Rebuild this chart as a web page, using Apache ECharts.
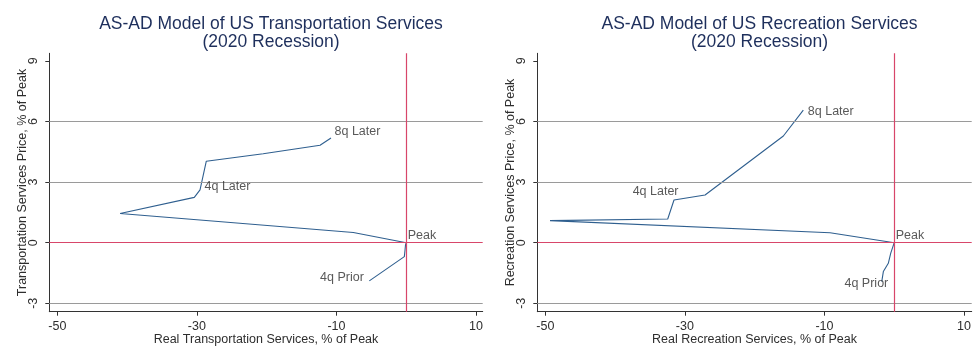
<!DOCTYPE html>
<html>
<head>
<meta charset="utf-8">
<script src="https://cdn.jsdelivr.net/npm/echarts@6/dist/echarts.min.js"></script>
<style>
html,body{margin:0;padding:0;background:#fff;}
#chart{width:975px;height:361px;}
</style>
</head>
<body>
<div id="chart"></div>
<script>
// ---- data ----
const xTicks = [-50, -30, -10, 10];
const yTicks = [-3, 0, 3, 6, 9];
const gridLinesY = [-3, 3, 6];
const quarterLabels = ['4q Prior', '', '', '', 'Peak', '', '', '', '4q Later', '', '', '', '8q Later'];

const transX = [-5.29, -0.27, -0.17, -0.10, 0, -7.58, -41.0, -30.37, -29.55, -28.65, -20.5, -12.35, -10.78];
const transY = [-1.89, -0.69, -0.36, -0.11, 0, 0.50, 1.44, 2.24, 2.61, 4.03, 4.40, 4.82, 5.18];

const recX = [-1.79, -1.56, -0.85, -0.50, 0, -9.2, -49.33, -32.46, -31.56, -27.11, -21.5, -15.89, -13.03];
const recY = [-1.93, -1.43, -1.02, -0.52, 0, 0.49, 1.09, 1.17, 2.11, 2.36, 3.82, 5.28, 6.56];

const titles = ['AS-AD Model of US Transportation Services\n(2020 Recession)', 'AS-AD Model of US Recreation Services\n(2020 Recession)'];
const xNames = ['Real Transportation Services, % of Peak', 'Real Recreation Services, % of Peak'];
const yNames = ['Transportation Services Price, % of Peak', 'Recreation Services Price, % of Peak'];

// ---- styles ----
const FONT = "'Liberation Sans', Arial, sans-serif";
const LINE_COLOR = '#2f5f8f';
const RED = '#d8466a';
const TEXT = '#2e2e2e';

// label placement per panel (style only)
const labelStyles = [
  {
    '4q Prior': {position: 'left', distance: 5, offset: [0, -3]},
    'Peak': {position: 'right', distance: 1, offset: [0, -7]},
    '4q Later': {position: 'right', distance: 4, offset: [0, -3]},
    '8q Later': {position: 'right', distance: 3, offset: [0, -6]}
  },
  {
    '4q Prior': {position: 'left', distance: 0, offset: [7, 2]},
    'Peak': {position: 'right', distance: 1, offset: [0, -7]},
    '4q Later': {position: 'left', distance: 0, offset: [5, -8]},
    '8q Later': {position: 'right', distance: 4, offset: [0, 1]}
  }
];

const panels = [
  {xs: transX, ys: transY, left: 49.3, width: 433.4, xMax: 10.96},
  {xs: recX, ys: recY, left: 537.3, width: 434.4, xMax: 11.1}
];

const chart = echarts.init(document.getElementById('chart'), null, {renderer: 'canvas'});

const option = {
  animation: false,
  backgroundColor: '#fff',
  textStyle: {fontFamily: FONT},
  title: panels.map((p, i) => ({
    text: titles[i],
    left: p.left + p.width / 2,
    top: 10,
    textAlign: 'center',
    textStyle: {fontFamily: FONT, fontSize: 17.5, fontWeight: 'normal', color: '#1e2f5c', lineHeight: 18}
  })),
  grid: panels.map(p => ({left: p.left, top: 53.3, width: p.width, height: 258.4, containLabel: false})),
  xAxis: panels.map((p, i) => ({
    type: 'value', gridIndex: i, min: -51.15, max: p.xMax,
    name: xNames[i], nameLocation: 'middle', nameGap: 21, nameMoveOverlap: false,
    nameTextStyle: {fontFamily: FONT, fontSize: 12.5, color: TEXT},
    axisLine: {show: true, onZero: false, lineStyle: {color: '#333', width: 1}},
    axisTick: {show: true, length: 4, customValues: xTicks, lineStyle: {color: '#333'}},
    axisLabel: {customValues: xTicks, margin: 8, fontFamily: FONT, fontSize: 12.5, color: TEXT,
      formatter: v => String(v)},
    splitLine: {show: false}
  })),
  yAxis: panels.map((p, i) => ({
    type: 'value', gridIndex: i, min: -3.415, max: 9.37,
    name: yNames[i], nameLocation: 'middle', nameGap: 20, nameRotate: 90, nameMoveOverlap: false,
    nameTextStyle: {fontFamily: FONT, fontSize: 12.5, color: TEXT},
    axisLine: {show: true, onZero: false, lineStyle: {color: '#333', width: 1}},
    axisTick: {show: true, length: 4, customValues: yTicks, lineStyle: {color: '#333'}},
    axisLabel: {customValues: yTicks, rotate: 90, margin: 9, fontFamily: FONT, fontSize: 12.5, color: TEXT,
      formatter: v => String(v)},
    splitLine: {show: false}
  })),
  series: []
};

panels.forEach((p, i) => {
  // gridlines
  option.series.push({
    type: 'line', xAxisIndex: i, yAxisIndex: i, data: [], silent: true,
    markLine: {
      silent: true, symbol: 'none', label: {show: false}, animation: false,
      lineStyle: {color: '#9a9a9a', type: 'solid', width: 1},
      data: gridLinesY.map(v => ({yAxis: v}))
    }
  });
  // path
  option.series.push({
    type: 'line', xAxisIndex: i, yAxisIndex: i, z: 3,
    showSymbol: false, symbol: 'none',
    lineStyle: {color: LINE_COLOR, width: 1.1},
    data: p.xs.map((x, k) => [x, p.ys[k]])
  });
  // reference red lines
  option.series.push({
    type: 'line', xAxisIndex: i, yAxisIndex: i, data: [], silent: true, z: 4,
    markLine: {
      silent: true, symbol: 'none', label: {show: false}, animation: false,
      lineStyle: {color: RED, type: 'solid', width: 1.2},
      data: [{xAxis: 0}, {yAxis: 0}]
    }
  });
  // labels
  option.series.push({
    type: 'scatter', xAxisIndex: i, yAxisIndex: i, symbolSize: 1, z: 5,
    itemStyle: {color: 'rgba(0,0,0,0)'},
    data: p.xs.map((x, k) => ({name: quarterLabels[k], value: [x, p.ys[k]]}))
      .filter(d => d.name !== '')
      .map(d => Object.assign(d, {
        label: Object.assign({show: true, formatter: '{b}', fontFamily: FONT, fontSize: 12.5, color: TEXT},
          labelStyles[i][d.name])
      }))
  });
});

chart.setOption(option);
</script>
</body>
</html>
